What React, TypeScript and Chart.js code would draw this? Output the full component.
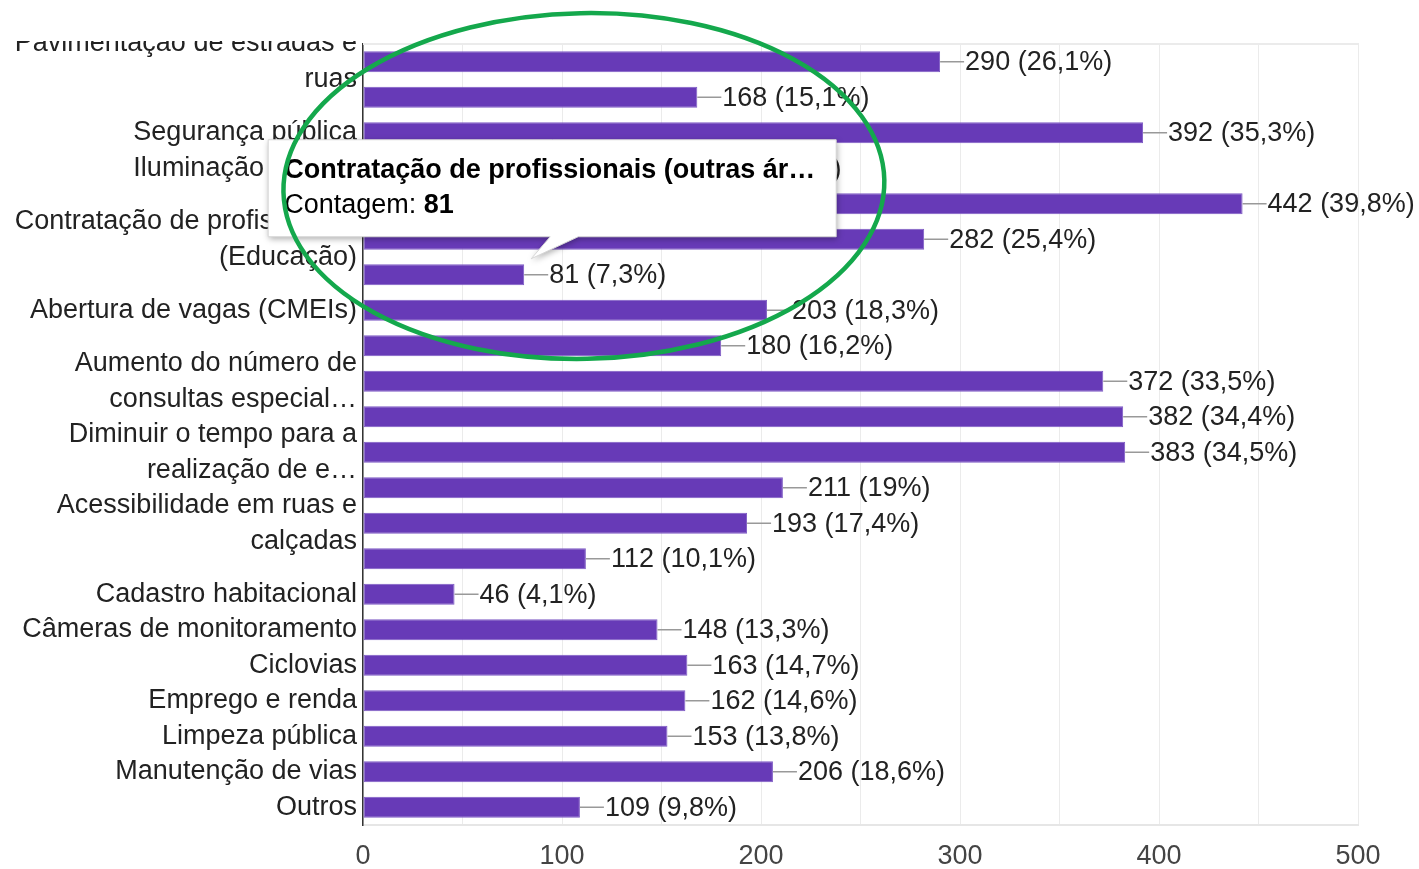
import { useEffect, useRef } from 'react';
import { Chart, registerables } from 'chart.js';

Chart.register(...registerables);

const categories: string[] = [
  'Pavimentação de estradas e ruas',
  'Saneamento básico',
  'Segurança pública',
  'Iluminação pública',
  'Contratação de profissionais (Saúde)',
  'Contratação de profissionais (Educação)',
  'Contratação de profissionais (outras áreas)',
  'Abertura de vagas (CMEIs)',
  'Abertura de vagas (escolas)',
  'Aumento do número de consultas especializadas',
  'Construção de unidades de saúde',
  'Diminuir o tempo para a realização de exames',
  'Acesso a medicamentos',
  'Acessibilidade em ruas e calçadas',
  'Áreas de lazer',
  'Cadastro habitacional',
  'Câmeras de monitoramento',
  'Ciclovias',
  'Emprego e renda',
  'Limpeza pública',
  'Manutenção de vias',
  'Outros',
];

const counts: number[] = [
  290, 168, 392, 154, 442, 282, 81, 203, 180, 372, 382, 383, 211, 193, 112, 46, 148, 163, 162, 153, 206, 109,
];

const percents: number[] = [
  26.1, 15.1, 35.3, 13.9, 39.8, 25.4, 7.3, 18.3, 16.2, 33.5, 34.4, 34.5, 19, 17.4, 10.1, 4.1, 13.3, 14.7, 14.6, 13.8, 18.6, 9.8,
];

const axisLabels: (string | string[])[] = [
  ['Pavimentação de estradas e', 'ruas'],
  '',
  'Segurança pública',
  'Iluminação pública',
  '',
  ['Contratação de profissionais', '(Educação)'],
  '',
  'Abertura de vagas (CMEIs)',
  '',
  ['Aumento do número de', 'consultas especial…'],
  '',
  ['Diminuir o tempo para a', 'realização de e…'],
  '',
  ['Acessibilidade em ruas e', 'calçadas'],
  '',
  'Cadastro habitacional',
  'Câmeras de monitoramento',
  'Ciclovias',
  'Emprego e renda',
  'Limpeza pública',
  'Manutenção de vias',
  'Outros',
];

const xMax = 500;
const xStep = 50;
const xLabelStep = 100;

const tooltipIndex = 6;
const tooltipTitle = 'Contratação de profissionais (outras ár…';
const tooltipKey = 'Contagem: ';

const FAMILY = '"Liberation Sans", Arial, sans-serif';
const FONT_SIZE = 27;

function fmtPct(p: number): string {
  const s = Number.isInteger(p) ? String(p) : p.toFixed(1).replace('.', ',');
  return s + '%';
}

const overlayPlugin = {
  id: 'overlay',
  afterDraw(chart: any) {
    const ctx: CanvasRenderingContext2D = chart.ctx;
    const area = chart.chartArea;
    const meta = chart.getDatasetMeta(0);
    const xs = chart.scales.x;
    const ys = chart.scales.y;

    ctx.save();
    // plot top border
    ctx.strokeStyle = '#ebebeb';
    ctx.lineWidth = 2;
    ctx.beginPath();
    ctx.moveTo(area.left, area.top);
    ctx.lineTo(area.right + 1, area.top);
    ctx.stroke();

    // value annotations
    ctx.font = `${FONT_SIZE}px ${FAMILY}`;
    ctx.textBaseline = 'middle';
    ctx.textAlign = 'left';
    meta.data.forEach((el: any, i: number) => {
      const x = el.x;
      const y = el.y;
      ctx.strokeStyle = '#999999';
      ctx.lineWidth = 1.5;
      ctx.beginPath();
      ctx.moveTo(x, y);
      ctx.lineTo(x + 24, y);
      ctx.stroke();
      ctx.fillStyle = '#222222';
      ctx.fillText(`${counts[i]} (${fmtPct(percents[i])})`, x + 25, y + 1);
    });

    // top crop mask over first label
    ctx.fillStyle = '#ffffff';
    ctx.fillRect(0, 0, area.left - 3, 41);

    // tooltip
    const el = meta.data[tooltipIndex];
    const tipX = el.x + 7;
    const tipY = el.y - 16;
    const bw = 568;
    const bh = 97;
    const bx = tipX - 263;
    const by = tipY - 22 - bh;
    const path = () => {
      ctx.beginPath();
      ctx.moveTo(bx, by);
      ctx.lineTo(bx + bw, by);
      ctx.lineTo(bx + bw, by + bh);
      ctx.lineTo(tipX + 47, by + bh);
      ctx.lineTo(tipX, tipY);
      ctx.lineTo(tipX + 19, by + bh);
      ctx.lineTo(bx, by + bh);
      ctx.closePath();
    };
    ctx.save();
    ctx.shadowColor = 'rgba(0,0,0,0.35)';
    ctx.shadowBlur = 6;
    ctx.shadowOffsetX = 1;
    ctx.shadowOffsetY = 2;
    path();
    ctx.fillStyle = '#ffffff';
    ctx.fill();
    ctx.restore();
    ctx.strokeStyle = '#d6d6d6';
    ctx.lineWidth = 1;
    path();
    ctx.stroke();

    ctx.fillStyle = '#000000';
    ctx.textBaseline = 'middle';
    ctx.font = `bold ${FONT_SIZE}px ${FAMILY}`;
    ctx.fillText(tooltipTitle, bx + 16, by + 31);
    ctx.font = `${FONT_SIZE}px ${FAMILY}`;
    ctx.fillText(tooltipKey, bx + 16, by + 66);
    const kw = ctx.measureText(tooltipKey).width;
    ctx.font = `bold ${FONT_SIZE}px ${FAMILY}`;
    ctx.fillText(String(counts[tooltipIndex]), bx + 16 + kw, by + 66);

    // green highlight ellipse
    const cx = xs.getPixelForValue(111);
    const cy = (ys.getPixelForValue(3) + ys.getPixelForValue(4)) / 2;
    const rx = xs.getPixelForValue(111 + 151) - cx;
    const ry = (ys.getPixelForValue(1) - ys.getPixelForValue(0)) * 4.87;
    ctx.strokeStyle = '#14a84c';
    ctx.lineWidth = 4.5;
    ctx.beginPath();
    ctx.ellipse(cx, cy, rx, ry, -0.02, 0, Math.PI * 2);
    ctx.stroke();
    ctx.restore();
  },
};

export default function App() {
  const ref = useRef<HTMLCanvasElement | null>(null);

  useEffect(() => {
    document.body.style.margin = '0';
    document.body.style.overflow = 'hidden';
    const canvas = ref.current;
    if (!canvas) return;
    const chart = new Chart(canvas, {
      type: 'bar',
      data: {
        labels: categories,
        datasets: [
          {
            data: counts,
            backgroundColor: '#673ab7',
            borderColor: '#7e5bc4',
            borderWidth: 1,
            borderSkipped: false,
            barPercentage: 0.59,
            categoryPercentage: 1,
          },
        ],
      },
      options: {
        indexAxis: 'y',
        animation: false,
        responsive: false,
        events: [],
        layout: { padding: { left: 0, right: 61, top: 44, bottom: 0 } },
        plugins: {
          legend: { display: false },
          tooltip: { enabled: false },
          title: { display: false },
        },
        scales: {
          x: {
            type: 'linear',
            min: 0,
            max: xMax,
            afterFit: (s: any) => {
              s.height = 44;
            },
            grid: { color: '#ebebeb', drawTicks: false, lineWidth: 1 },
            border: { display: true, color: '#e6e6e6', width: 2 },
            ticks: {
              stepSize: xStep,
              padding: 15,
              autoSkip: false,
              maxRotation: 0,
              color: '#444444',
              font: { family: FAMILY, size: FONT_SIZE },
              callback: (v: any) => (Number(v) % xLabelStep === 0 ? String(v) : ''),
            },
          },
          y: {
            type: 'category',
            afterFit: (s: any) => {
              s.width = 363;
            },
            grid: { display: false, drawTicks: false },
            border: { display: true, color: '#333333', width: 1.5 },
            ticks: {
              autoSkip: false,
              padding: 6,
              color: '#222222',
              font: { family: FAMILY, size: FONT_SIZE, lineHeight: 36 / FONT_SIZE },
              callback: (_v: any, i: number) => axisLabels[i],
            },
          },
        },
      },
      plugins: [overlayPlugin],
    } as any);
    return () => chart.destroy();
  }, []);

  return (
    <div style={{ width: 1419, height: 869, background: '#ffffff' }}>
      <canvas ref={ref} width={1419} height={869} style={{ display: 'block' }} />
    </div>
  );
}
